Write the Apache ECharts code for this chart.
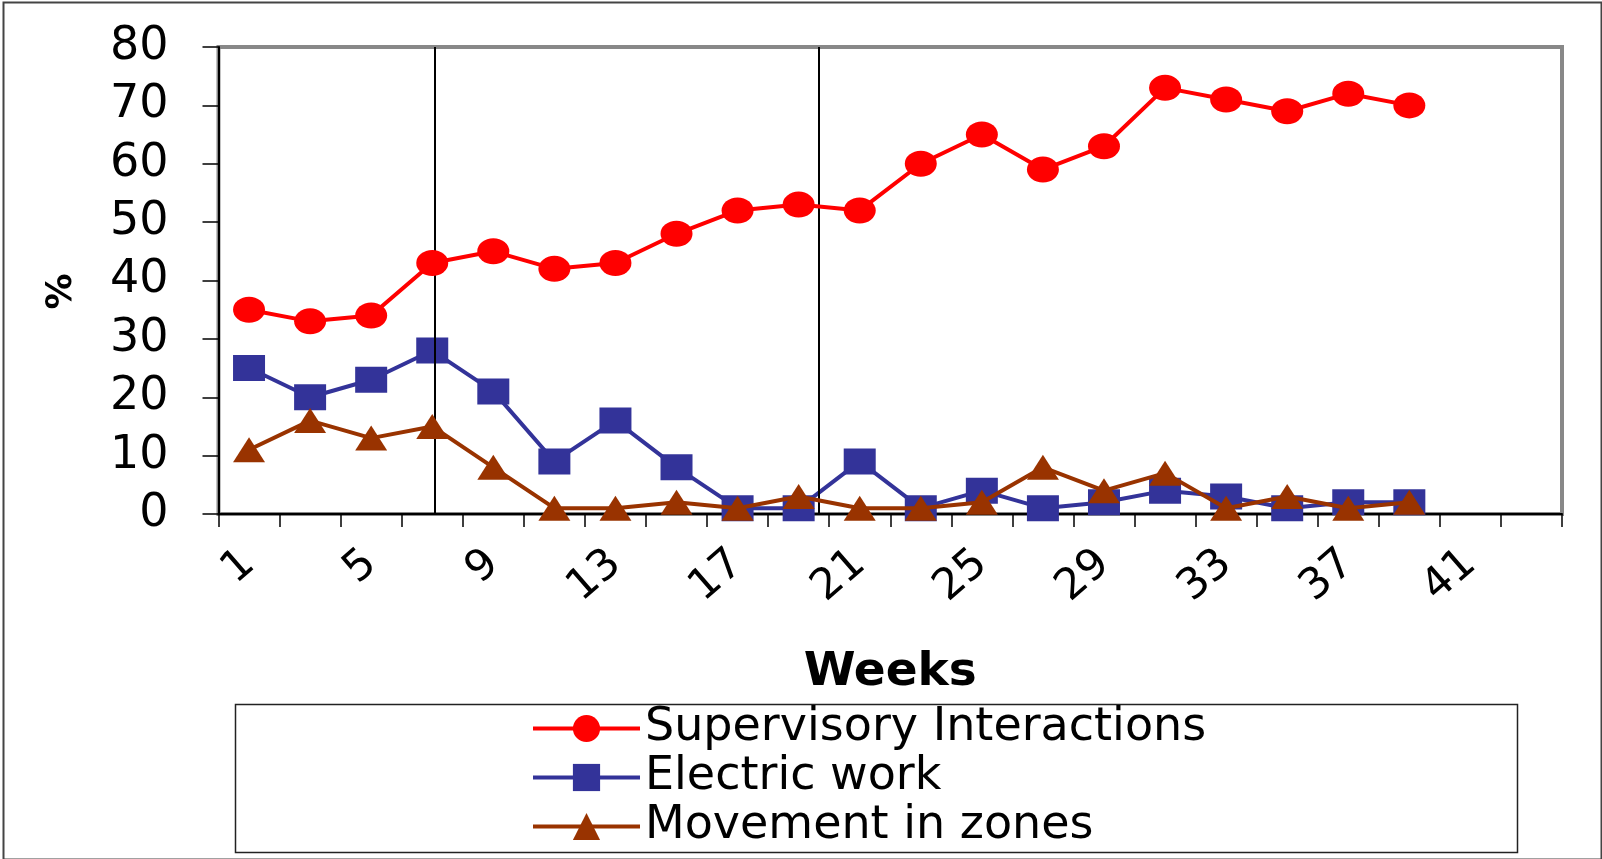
<!DOCTYPE html>
<html>
<head>
<meta charset="utf-8">
<script src="https://cdn.jsdelivr.net/npm/echarts@6/dist/echarts.min.js"></script>
<style>
  html, body { margin: 0; padding: 0; background: #ffffff; }
  #chart { width: 1602px; height: 859px; }
</style>
</head>
<body>
<div id="chart"></div>
<script>
// ---- data ----
const weeks = [1, 3, 5, 7, 9, 11, 13, 15, 17, 19, 21, 23, 25, 27, 29, 31, 33, 35, 37, 39, 41, 43];
const supervisoryInteractions = [35, 33, 34, 43, 45, 42, 43, 48, 52, 53, 52, 60, 65, 59, 63, 73, 71, 69, 72, 70];
const electricWork = [25, 20, 23, 28, 21, 9, 16, 8, 1, 1, 9, 1, 4, 1, 2, 4, 3, 1, 2, 2];
const movementInZones = [11, 16, 13, 15, 8, 1, 1, 2, 1, 3, 1, 1, 2, 8, 4, 7, 1, 3, 1, 2];
const phaseBoundaryWeeks = [7.07, 19.66];
const seriesNames = ['Supervisory Interactions', 'Electric work', 'Movement in zones'];
const yTicks = { min: 0, max: 80, interval: 10 };

const FONT = "'DejaVu Sans', 'Liberation Sans', sans-serif";
const chart = echarts.init(document.getElementById('chart'), null, { renderer: 'canvas' });

const option = {
  backgroundColor: '#ffffff',
  animation: false,
  grid: {
    left: 218.5, right: 40, top: 47, bottom: 345,
    show: true, borderColor: '#888888', borderWidth: 4,
    backgroundColor: 'transparent',
    containLabel: false,
    outerBoundsMode: 'none'
  },
  xAxis: [
    {
      type: 'category',
      data: weeks.map(String),
      boundaryGap: true,
      name: 'Weeks',
      nameLocation: 'middle',
      nameGap: 135,
      nameTextStyle: { fontFamily: FONT, fontSize: 47, fontWeight: 'bold', color: '#000' },
      axisLine: { show: true, lineStyle: { color: '#000', width: 2 } },
      axisTick: { show: true, interval: 0, length: 13, lineStyle: { color: '#000', width: 1.5 } },
      axisLabel: {
        interval: 1, rotate: 41, margin: 44,
        fontFamily: FONT, fontSize: 43, color: '#000'
      },
      splitLine: { show: false }
    },
    {
      type: 'value', min: 0, max: 44, show: false,
      gridIndex: 0
    }
  ],
  yAxis: {
    type: 'value',
    min: yTicks.min, max: yTicks.max, interval: yTicks.interval,
    name: '%',
    nameLocation: 'middle',
    nameGap: 139,
    nameTextStyle: { fontFamily: FONT, fontSize: 36, fontWeight: 'bold', color: '#000', padding: [0, 22, 0, 0] },
    axisLine: { show: true, lineStyle: { color: '#000', width: 2 } },
    axisTick: { show: true, inside: false, length: 16, lineStyle: { color: '#000', width: 1.5 } },
    axisLabel: { margin: 50, fontFamily: FONT, fontSize: 46, color: '#000' },
    splitLine: { show: false }
  },
  legend: {
    orient: 'vertical',
    left: 531, top: 704,
    padding: 0,
    itemGap: 0,
    itemWidth: 107,
    itemHeight: 34,
    data: seriesNames,
    lineStyle: { width: 4 },
    textStyle: { fontFamily: FONT, fontSize: 46, color: '#000', lineHeight: 49 }
  },
  graphic: [
    {
      type: 'rect', left: 233, top: 702, silent: true,
      shape: { width: 1282, height: 148 },
      style: { fill: 'none', stroke: '#222', lineWidth: 1.5 }
    },
    {
      type: 'rect', left: 1, top: 0, silent: true,
      shape: { width: 1598, height: 857 },
      style: { fill: 'none', stroke: '#444', lineWidth: 2 }
    }
  ],
  series: [
    {
      name: seriesNames[0], type: 'line', data: supervisoryInteractions,
      symbol: 'circle', symbolSize: [32, 26],
      lineStyle: { color: '#ff0000', width: 4 },
      itemStyle: { color: '#ff0000' },
      z: 5
    },
    {
      name: seriesNames[1], type: 'line', data: electricWork,
      symbol: 'rect', symbolSize: [32, 26],
      lineStyle: { color: '#333399', width: 4 },
      itemStyle: { color: '#333399' },
      z: 4
    },
    {
      name: seriesNames[2], type: 'line', data: movementInZones,
      symbol: 'triangle', symbolSize: [32, 25],
      lineStyle: { color: '#993300', width: 4 },
      itemStyle: { color: '#993300' },
      z: 6
    },
    {
      name: 'phases', type: 'line', xAxisIndex: 1, data: [],
      silent: true,
      markLine: {
        silent: true, symbol: 'none',
        label: { show: false },
        lineStyle: { color: '#000', width: 2, type: 'solid' },
        data: phaseBoundaryWeeks.map(w => ({ xAxis: w }))
      },
      z: 7
    }
  ]
};
chart.setOption(option);
</script>
</body>
</html>
